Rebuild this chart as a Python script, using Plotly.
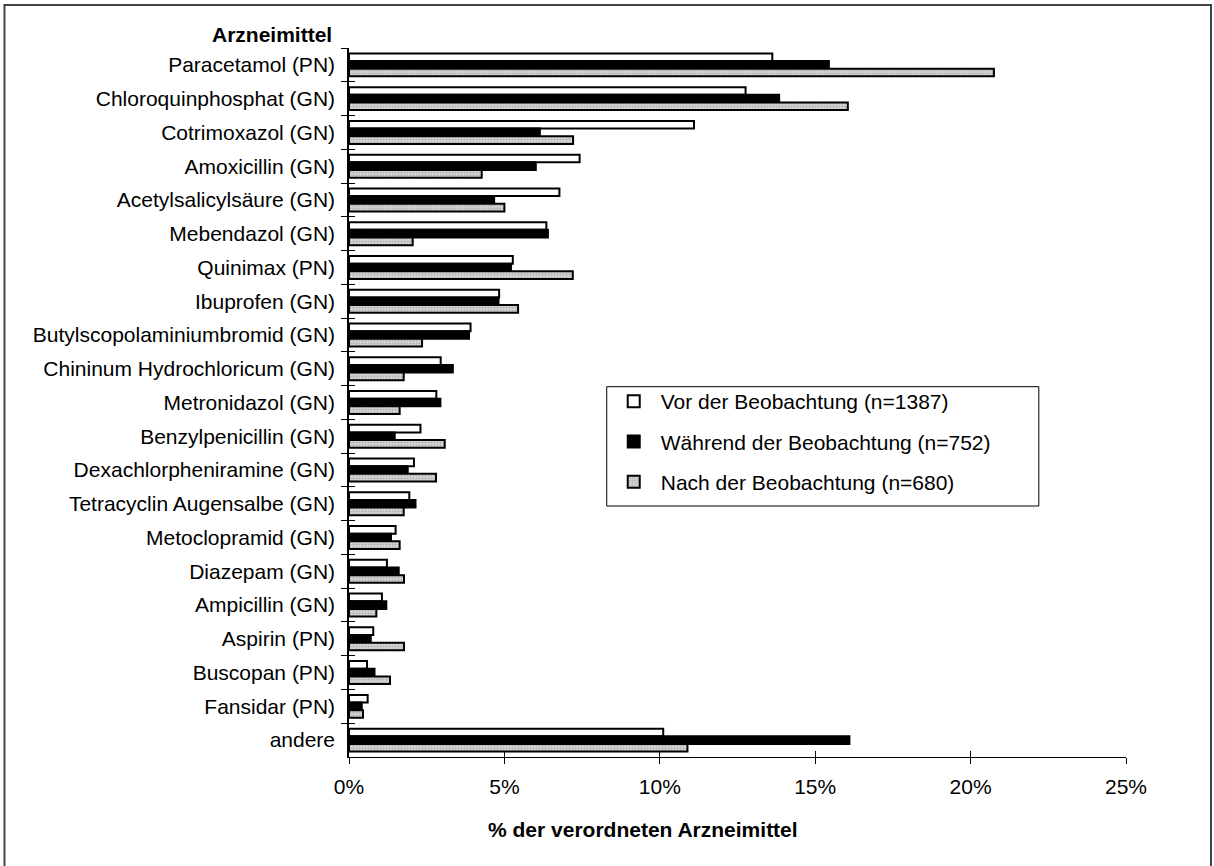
import plotly.graph_objects as go

categories = ["Paracetamol (PN)", "Chloroquinphosphat (GN)", "Cotrimoxazol (GN)", "Amoxicillin (GN)",
              "Acetylsalicylsäure (GN)", "Mebendazol (GN)", "Quinimax (PN)", "Ibuprofen (GN)",
              "Butylscopolaminiumbromid (GN)", "Chininum Hydrochloricum (GN)", "Metronidazol (GN)",
              "Benzylpenicillin (GN)", "Dexachlorpheniramine (GN)", "Tetracyclin Augensalbe (GN)",
              "Metoclopramid (GN)", "Diazepam (GN)", "Ampicillin (GN)", "Aspirin (PN)", "Buscopan (PN)",
              "Fansidar (PN)", "andere"]
vor = [13.62, 12.76, 11.10, 7.42, 6.77, 6.35, 5.27, 4.83, 3.91, 2.95, 2.81, 2.30, 2.09, 1.94, 1.50,
       1.22, 1.06, 0.78, 0.58, 0.60, 10.11]
waehrend = [15.44, 13.84, 6.14, 6.01, 4.67, 6.40, 5.21, 4.81, 3.86, 3.34, 2.94, 1.47, 1.89, 2.14, 1.35,
            1.60, 1.20, 0.70, 0.82, 0.41, 16.10]
nach = [20.75, 16.05, 7.21, 4.27, 5.00, 2.05, 7.20, 5.44, 2.35, 1.76, 1.63, 3.08, 2.80, 1.76, 1.63,
        1.77, 0.88, 1.77, 1.32, 0.45, 10.89]
series_names = ["Vor der Beobachtung (n=1387)", "Während der Beobachtung (n=752)",
                "Nach der Beobachtung (n=680)"]
x_ticks = [0, 5, 10, 15, 20, 25]
x_tick_labels = ["0%", "5%", "10%", "15%", "20%", "25%"]

FONT = "Liberation Sans, Arial, sans-serif"

fig = go.Figure()
fig.add_trace(go.Bar(y=categories, x=vor, orientation="h", name=series_names[0],
                     legendgroup="a",
                     marker=dict(color="white", line=dict(color="black", width=2))))
fig.add_trace(go.Bar(y=categories, x=waehrend, orientation="h", name=series_names[1],
                     legendgroup="b",
                     marker=dict(color="black", line=dict(color="black", width=2))))
fig.add_trace(go.Bar(y=categories, x=nach, orientation="h", name=series_names[2],
                     legendgroup="c",
                     marker=dict(color="#c8c8c8", line=dict(color="black", width=2),
                                 pattern=dict(shape=".", fgcolor="#8a8a8a", bgcolor="#d4d4d4",
                                              size=3, solidity=0.35))))
# invisible helper trace for the inner half of crossing tick marks
fig.add_trace(go.Bar(y=categories, x=[0] * len(categories), orientation="h", xaxis="x2", yaxis="y2",
                     showlegend=False, hoverinfo="skip", marker=dict(opacity=0)))

fig.update_layout(
    width=1214, height=866,
    margin=dict(l=349, r=88, t=48, b=109),
    paper_bgcolor="white", plot_bgcolor="white",
    font=dict(family=FONT, size=21, color="black"),
    barmode="group", bargap=0.32, bargroupgap=0,
    xaxis=dict(range=[0, 25], tickvals=x_ticks, ticktext=x_tick_labels, showgrid=False,
               zeroline=False, showline=True, linecolor="black", linewidth=1, ticks="outside",
               ticklen=6, tickcolor="black", ticklabelstandoff=5, tickfont=dict(size=21)),
    xaxis2=dict(range=[0, 25], tickvals=x_ticks, overlaying="x", anchor="y", side="bottom",
                showgrid=False, zeroline=False, showline=False, ticks="inside", ticklen=6,
                tickcolor="black", showticklabels=False),
    yaxis=dict(type="category", categoryorder="array", categoryarray=categories,
               range=[len(categories) - 0.5, -0.5], tickson="boundaries", ticks="outside",
               ticklen=6, tickcolor="black", showgrid=False, zeroline=False, showline=True,
               linecolor="black", linewidth=1.5, ticklabelstandoff=8, tickfont=dict(size=21)),
    yaxis2=dict(type="category", categoryorder="array", categoryarray=categories,
                range=[len(categories) - 0.5, -0.5], overlaying="y", anchor="x", side="left",
                tickson="boundaries", ticks="inside", ticklen=6, tickcolor="black",
                showgrid=False, zeroline=False, showline=False, showticklabels=False),
    legend=dict(x=0.3317, y=0.5303, xanchor="left", yanchor="top", bgcolor="rgba(0,0,0,0)",
                borderwidth=0, traceorder="grouped", tracegroupgap=10,
                itemwidth=44, font=dict(size=21, family=FONT)),
    showlegend=True,
    annotations=[
        dict(text="<b>Arzneimittel</b>", xref="paper", yref="paper", x=-0.0193, y=1.0,
             xanchor="right", yanchor="bottom", showarrow=False, font=dict(size=21)),
        dict(text="<b>% der verordneten Arzneimittel</b>", xref="paper", yref="paper",
             x=0.379, y=-0.102, xanchor="center", yanchor="middle", showarrow=False,
             font=dict(size=21)),
    ],
    shapes=[
        dict(type="rect", xref="paper", yref="paper", x0=-0.4434, x1=1.1094, y0=-0.17, y1=1.0606,
             line=dict(color="#444444", width=2), fillcolor="rgba(0,0,0,0)", layer="below"),
        # legend frame
        dict(type="rect", xref="paper", yref="paper", x0=0.3317, x1=0.8878, y0=0.3540, y1=0.5223,
             line=dict(color="black", width=1), fillcolor="white", layer="above"),
    ],
)

fig.write_html("out.html")
